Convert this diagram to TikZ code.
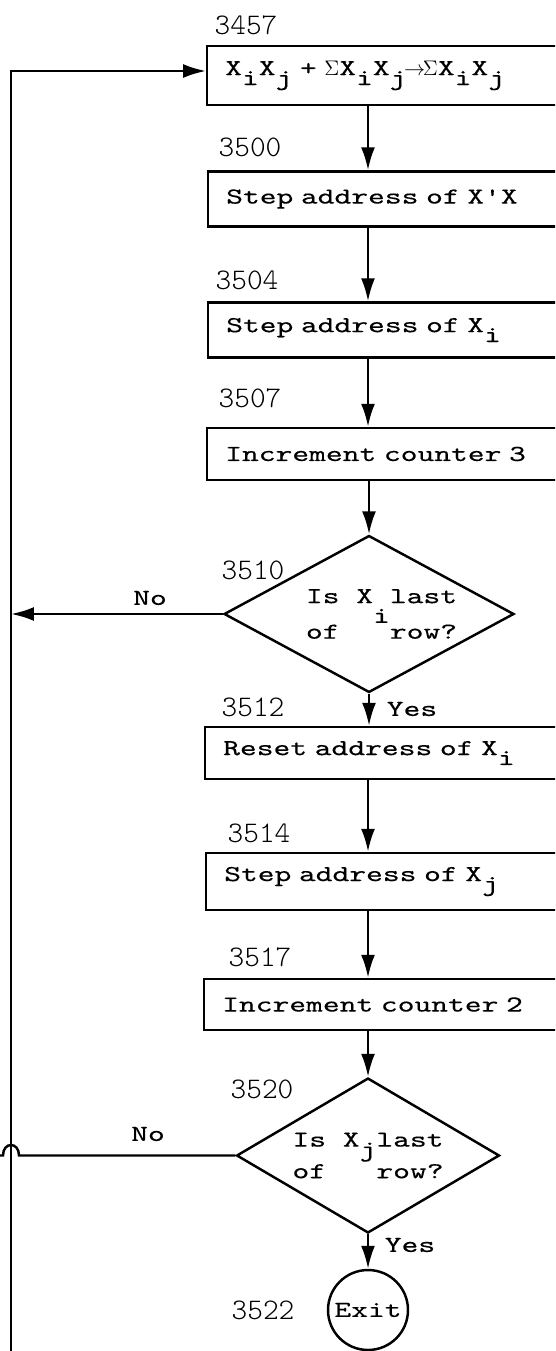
\documentclass[tikz,border=0pt]{standalone}
\usepackage{fontspec}
\usetikzlibrary{shapes.geometric,arrows.meta}
\newfontfamily\typer{lmmono10-regular.otf}[FakeStretch=1.4,FakeBold=0.3]
\newfontfamily\numtyper{lmmonolt10-regular.otf}
\newlength\typecell
% typewriter: a space is as wide as a letter
\newcommand\boxfont{\typer\fontsize{13pt}{18pt}\selectfont
  \settowidth\typecell{x}\spaceskip=\typecell\relax}
\newcommand\addrfont{\numtyper\fontsize{17pt}{18pt}\selectfont}
% lowered typewriter subscript
\newcommand\lo[2][1ex]{\raisebox{-#1}{#2}}
\tikzset{
procbox/.style={draw, rectangle, anchor=west, font=\boxfont, text width=7cm,
  inner xsep=0.36cm, minimum height=1.1cm, align=left},
decide/.style={draw, diamond, font=\boxfont, align=left, inner sep=0pt},
stopnode/.style={draw, circle, font=\boxfont, inner sep=0pt, minimum size=1.6cm},
addr/.style={font=\addrfont},
answer/.style={font=\boxfont},
flow/.style={-{Latex[length=0.46cm,width=0.28cm]}}
}

\begin{document}
\begin{tikzpicture}[x=0.02cm, y=-0.02cm, line width=1.4pt]
\clip (0,0) rectangle (555,1351);
\coordinate (axis) at (368,0);
\coordinate (lt) at (11,71);
\coordinate (lb) at (11,1365);

% boxes
\node[addr] (a3457) at (246,25) {3457};
\node[procbox, minimum height=1.18cm] (b1) at (206,75.5)
  {X\lo{i}X\lo{j} + $\Sigma$X\lo{i}X\lo{j}\kern-0.1em$\rightarrow$\kern-0.1em$\Sigma$X\lo{i}X\lo{j}};
\node[addr] (a3500) at (250,147) {3500};
\node[procbox] (b2) at (207,199) {Step address of X'X};
\node[addr] (a3504) at (247,280) {3504};
\node[procbox] (b3) at (207,330) {Step address of X\lo{i}};
\node[addr] (a3507) at (250,398) {3507};
\node[procbox, minimum height=1.04cm] (b4) at (206,454) {Increment counter 3};

\node[addr] (a3510) at (253,570) {3510};
\node[decide, aspect=1.85, minimum width=5.8cm, minimum height=3.14cm] (d1) at (369,614)
  {\hspace*{0.5cm}Is X\rlap{\lo[2ex]{i}} last\\\hspace*{0.5cm}of\phantom{X}\hspace{2\typecell}row?};
\node[answer] (no1) at (150,598) {No};
\node[answer] (yes1) at (412,709) {Yes};

\node[addr] (a3512) at (253,707) {3512};
\node[procbox, minimum height=1.04cm] (b5) at (204,753) {Reset address of X\lo{i}};
\node[addr] (a3514) at (259,833) {3514};
\node[procbox, minimum height=1.14cm] (b6) at (205,881.5) {Step address of X\lo{j}};
\node[addr] (a3517) at (260,957) {3517};
\node[procbox, minimum height=1.02cm] (b7) at (203,1004.5) {Increment counter 2};

\node[addr] (a3520) at (262,1089) {3520};
\node[decide, aspect=1.7, minimum width=5.26cm, minimum height=3.1cm] (d2) at (368,1155.5)
  {Is X\rlap{\lo{j}} last\\of\phantom{X}\hspace{2\typecell}row?};
\node[answer] (no2) at (148,1134) {No};
\node[answer] (yes2) at (410,1245) {Yes};

\node[addr] (a3522) at (263,1310) {3522};
\node[stopnode] (stop) at (368,1310) {Exit};

% connectors
\draw[flow] (b1.south -| axis) -- (b2.north -| axis);
\draw[flow] (b2.south -| axis) -- (b3.north -| axis);
\draw[flow] (b3.south -| axis) -- (b4.north -| axis);
\draw[flow] (b4.south -| d1.north) -- (d1.north);
\draw[flow] (d1.south) -- (b5.north -| d1.south);
\draw[flow] (b5.south -| axis) -- (b6.north -| axis);
\draw[flow] (b6.south -| axis) -- (b7.north -| axis);
\draw[flow] (b7.south -| d2.north) -- (d2.north);
\draw[flow] (d2.south) -- (stop.north);

% loop back
\draw[flow] (lb) -- (lt) -- (b1.west |- lt);
\draw[flow] (d1.west) -- (d1.west -| lt);
\coordinate (hopr) at (19,1155.5);
\coordinate (hopl) at (3,1155.5);
\coordinate (offl) at (-10,1155.5);
\draw (d2.west) -- (hopr) .. controls +(0,-14) and +(0,-14) .. (hopl) -- (offl);
\end{tikzpicture}
\end{document}
